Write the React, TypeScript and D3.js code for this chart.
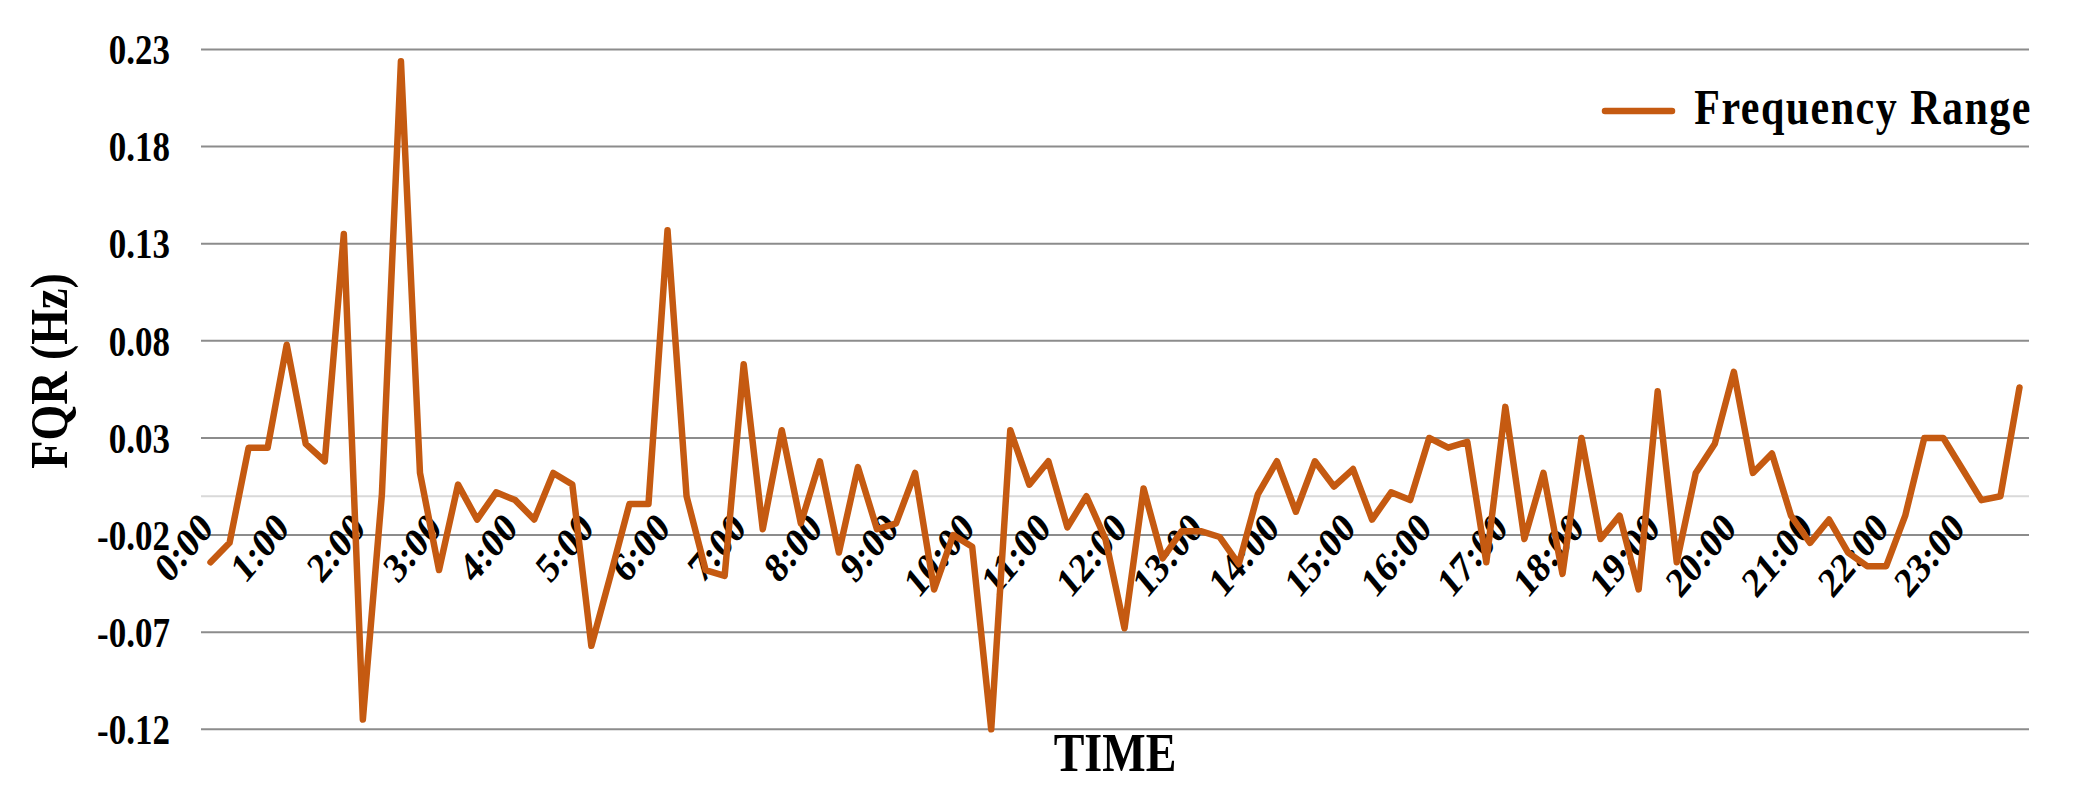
import React from 'react';
import * as d3 from 'd3';

// hourly tick labels, four 15-minute samples per hour
const HOUR_LABELS = [
  '0:00', '1:00', '2:00', '3:00', '4:00', '5:00', '6:00', '7:00',
  '8:00', '9:00', '10:00', '11:00', '12:00', '13:00', '14:00', '15:00',
  '16:00', '17:00', '18:00', '19:00', '20:00', '21:00', '22:00', '23:00',
];
const QUARTERS = ['00', '15', '30', '45'];
const CATEGORIES = HOUR_LABELS.flatMap((h) => QUARTERS.map((q) => h.replace(':00', ':' + q)));

// frequency range (Hz)
const FQR = [
  -0.034, -0.024, 0.025, 0.025, 0.078, 0.027, 0.018, 0.135,
  -0.115, 0.001, 0.224, 0.012, -0.038, 0.006, -0.012, 0.002,
  -0.002, -0.012, 0.012, 0.006, -0.077, -0.041, -0.004, -0.004,
  0.137, 0.0, -0.038, -0.041, 0.068, -0.017, 0.034, -0.014,
  0.018, -0.029, 0.015, -0.017, -0.014, 0.012, -0.048, -0.02,
  -0.026, -0.12, 0.034, 0.006, 0.018, -0.016, 0.0, -0.022,
  -0.068, 0.004, -0.032, -0.018, -0.018, -0.021, -0.035, 0.001,
  0.018, -0.008, 0.018, 0.005, 0.014, -0.012, 0.002, -0.002,
  0.03, 0.025, 0.028, -0.034, 0.046, -0.022, 0.012, -0.04,
  0.03, -0.022, -0.01, -0.048, 0.054, -0.034, 0.012, 0.027,
  0.064, 0.012, 0.022, -0.01, -0.024, -0.012, -0.029, -0.036,
  -0.036, -0.01, 0.03, 0.03, 0.014, -0.002, 0.0, 0.056,
];

const Y_TICKS = [0.23, 0.18, 0.13, 0.08, 0.03, -0.02, -0.07, -0.12];

const W = 2083;
const H = 798;
const FONT = '"Liberation Serif", "Times New Roman", serif';
const LINE_COLOR = '#C55A11';
// the source figure's lettering is a bit taller than it is wide
const STRETCH = 1.2;

export default function App() {
  const left = 201;
  const right = 2029;
  const top = 49.5;
  const bottom = 729.3;

  const x = d3.scaleBand<string>().domain(CATEGORIES).range([left, right]);
  const y = d3.scaleLinear().domain([-0.12, 0.23]).range([bottom, top]);
  const cx = (c: string) => (x(c) ?? 0) + x.bandwidth() / 2;

  const line = d3
    .line<number>()
    .x((_, i) => cx(CATEGORIES[i]))
    .y((d) => y(d));

  const y0 = y(0);

  return (
    <svg
      width={W}
      height={H}
      style={{ position: 'absolute', left: 0, top: 0, background: '#fff' }}
      fontFamily={FONT}
      fontWeight="bold"
    >
      {/* horizontal gridlines */}
      {Y_TICKS.map((t) => (
        <g key={t}>
          <line x1={left} x2={right} y1={y(t)} y2={y(t)} stroke="#8c8c8c" strokeWidth={2} />
          <text
            transform={`translate(170, ${y(t)}) scale(1, ${STRETCH})`}
            dy="0.35em"
            textAnchor="end"
            fontSize={35}
            fill="#000"
          >
            {t.toFixed(2)}
          </text>
        </g>
      ))}

      {/* category axis at zero */}
      <line x1={left} x2={right} y1={y0} y2={y0} stroke="#d9d9d9" strokeWidth={2} />

      {HOUR_LABELS.map((h, i) => {
        const px = cx(CATEGORIES[i * 4]) + 4;
        const py = y0 + 34;
        return (
          <text
            key={h}
            textAnchor="end"
            fontSize={35}
            fill="#000"
            transform={`translate(${px}, ${py}) scale(1, ${STRETCH}) rotate(-45)`}
          >
            {h}
          </text>
        );
      })}

      <path
        d={line(FQR) ?? ''}
        fill="none"
        stroke={LINE_COLOR}
        strokeWidth={6.5}
        strokeLinejoin="round"
        strokeLinecap="round"
      />

      {/* axis titles */}
      <text
        transform={`translate(67, 371) scale(1.15, 1) rotate(-90)`}
        textAnchor="middle"
        fontSize={46}
        fill="#000"
      >
        FQR (Hz)
      </text>
      <text
        transform={`translate(${(left + right) / 2}, 771) scale(1, ${STRETCH})`}
        textAnchor="middle"
        fontSize={46}
        fill="#000"
      >
        TIME
      </text>

      {/* legend */}
      <line x1={1605} x2={1672} y1={111} y2={111} stroke={LINE_COLOR} strokeWidth={6.5} strokeLinecap="round" />
      <text
        transform={`translate(2032, 124) scale(1, ${STRETCH})`}
        textAnchor="end"
        fontSize={42}
        letterSpacing={1.5}
        fill="#000"
      >
        Frequency Range
      </text>
    </svg>
  );
}
